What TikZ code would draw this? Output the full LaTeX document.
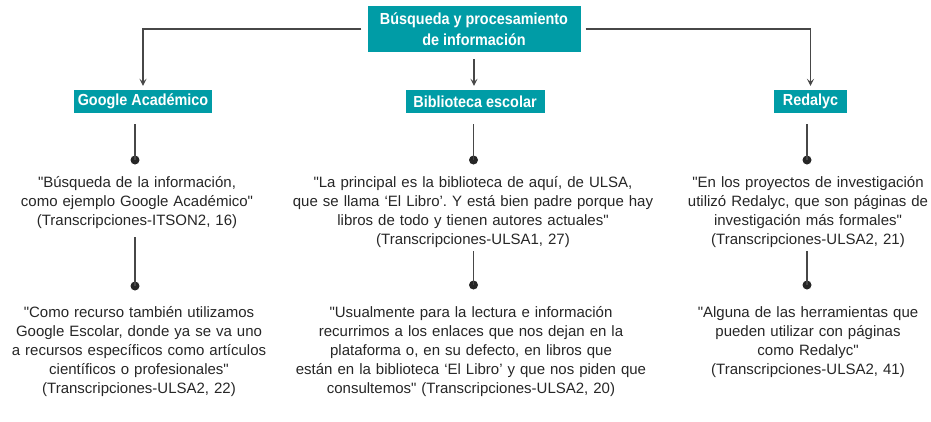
\documentclass[tikz,border=0pt]{standalone}
\usepackage{fontspec}
\setmainfont{Liberation Sans}[Ligatures=TeXOff]
\newfontfamily\headfont[FakeStretch=0.9]{Liberation Sans}
\usetikzlibrary{arrows.meta,positioning}
\frenchspacing

\begin{document}
\begin{tikzpicture}[x=1pt, y=-1pt,
    headbox/.style={fill=boxteal, text=white, font=\headfont\bfseries\fontsize{16}{20.5}\selectfont,
                    inner sep=0pt, minimum height=23pt, align=center},
    quote/.style={anchor=base, inner sep=0pt, text width=420pt, align=center, text=black!85,
                  font=\fontsize{15}{19}\selectfont},
    dot/.style={circle, fill=black!85, inner sep=0pt, minimum size=9pt},
    link/.style={line width=1.3pt, draw=black!72},
    arr/.style={link, -{Stealth[length=7pt, width=7pt, inset=3pt]}}]

            % Define colors
            \definecolor{boxteal}{RGB}{0,156,166}

            % Frame
            \useasboundingbox (0,0) rectangle (931,421);

            % Top box
            \node[headbox, minimum width=213pt, minimum height=46pt] (top) at (474,29)
                {Búsqueda y procesamiento\\de información};

            % Sources
            \node[headbox, minimum width=138pt] (ga) at (143,101.5) {Google Académico};
            \node[headbox, minimum width=139pt] (bib) at (475,101.5) {Biblioteca escolar};
            \node[headbox, minimum width=73pt] (red) at (810.5,101.5) {Redalyc};

            % Arrows from top box
            \draw[arr, shorten <=6pt, shorten >=4pt] (top.west) -| (ga.north);
            \draw[arr, shorten <=7pt, shorten >=4pt] (top.south) -- (top.south |- bib.north);
            \draw[arr, shorten <=5pt, shorten >=4pt] (top.east) -| (red.north);

            % Dots
            \node[dot] (ga1) at (135,160) {};
            \node[dot] (ga2) at (135,286) {};
            \node[dot] (bib1) at (473.5,160) {};
            \node[dot] (bib2) at (473.5,285) {};
            \node[dot] (red1) at (807,160) {};
            \node[dot] (red2) at (807,285) {};

            % Quotes
            \node[quote] (gaq1) at (137,187.5)
                {"Búsqueda de la información,\\como ejemplo Google Académico"\\(Transcripciones-ITSON2, 16)};
            \node[quote] (gaq2) at (139,317)
                {"Como recurso también utilizamos\\Google Escolar, donde ya se va uno\\a recursos específicos como artículos\\científicos o profesionales"\\(Transcripciones-ULSA2, 22)};
            \node[quote] (bibq1) at (473,187.5)
                {"La principal es la biblioteca de aquí, de ULSA,\\que se llama ‘El Libro’. Y está bien padre porque hay\\libros de todo y tienen autores actuales"\\(Transcripciones-ULSA1, 27)};
            \node[quote] (bibq2) at (471,317)
                {"Usualmente para la lectura e información\\recurrimos a los enlaces que nos dejan en la\\plataforma o, en su defecto, en libros que\\están en la biblioteca ‘El Libro’ y que nos piden que\\consultemos" (Transcripciones-ULSA2, 20)};
            \node[quote] (redq1) at (808,187.5)
                {"En los proyectos de investigación\\utilizó Redalyc, que son páginas de\\investigación más formales"\\(Transcripciones-ULSA2, 21)};
            \node[quote] (redq2) at (808,317)
                {"Alguna de las herramientas que\\pueden utilizar con páginas\\como Redalyc"\\(Transcripciones-ULSA2, 41)};

            % Lines to dots
            \draw[link, shorten >=11pt] (ga1.center) -- (ga1 |- ga.south);
            \draw[link, shorten >=11pt] (bib1.center) -- (bib1 |- bib.south);
            \draw[link, shorten >=11pt] (red1.center) -- (red1 |- red.south);
            \draw[link, shorten >=8pt] (ga2.center) -- (ga2 |- gaq1.south);
            \draw[link, shorten >=3pt] (bib2.center) -- (bib2 |- bibq1.south);
            \draw[link, shorten >=3pt] (red2.center) -- (red2 |- redq1.south);

\end{tikzpicture}
\end{document}
